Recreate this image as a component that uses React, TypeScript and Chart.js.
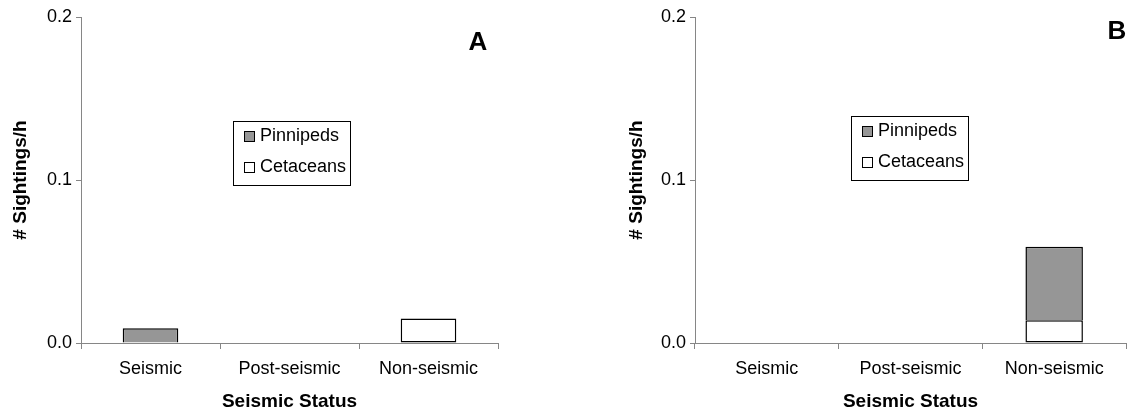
import React, { useEffect, useRef } from "react";
import { Chart, registerables } from "chart.js";

Chart.register(...registerables);

// ---- data ----
const categories = ["Seismic", "Post-seismic", "Non-seismic"];
const seriesLabels = ["Cetaceans", "Pinnipeds"];
const cetaceansA = [0, 0, 0.015];
const pinnipedsA = [0.009, 0, 0];
const cetaceansB = [0, 0, 0.014];
const pinnipedsB = [0, 0, 0.045];
const yTickValues = [0, 0.1, 0.2];
const panelLabels = ["A", "B"];
const xTitle = "Seismic Status";
const yTitle = "# Sightings/h";

const FONT = "'Liberation Sans', Arial, Helvetica, sans-serif";
const AXIS = "#868686";
const GRAY = "#969696";

const decoPlugin = {
  id: "panelDeco",
  afterDraw(chart: any, _args: any, opts: any) {
    const ctx = chart.ctx;
    ctx.save();
    // legend box
    const { legendX, legendY, legendW, legendH } = opts;
    ctx.fillStyle = "#ffffff";
    ctx.fillRect(legendX, legendY, legendW, legendH);
    ctx.strokeStyle = "#000";
    ctx.lineWidth = 1;
    ctx.strokeRect(legendX + 0.5, legendY + 0.5, legendW, legendH);
    const items = chart.data.datasets.slice().reverse();
    items.forEach((ds: any, i: number) => {
      const sx = legendX + 11;
      const sy = legendY + 10 + i * 31;
      ctx.fillStyle = ds.backgroundColor;
      ctx.fillRect(sx, sy, 10, 10);
      ctx.strokeStyle = "#000";
      ctx.lineWidth = 1;
      ctx.strokeRect(sx + 0.5, sy + 0.5, 10, 10);
      ctx.fillStyle = "#000";
      ctx.font = `18px ${FONT}`;
      ctx.textBaseline = "middle";
      ctx.textAlign = "left";
      ctx.fillText(ds.label, sx + 16, sy + 5.5);
    });
    // panel label
    ctx.font = `bold 26px ${FONT}`;
    ctx.textAlign = "center";
    ctx.textBaseline = "middle";
    ctx.fillStyle = "#000";
    ctx.fillText(opts.label, opts.labelX, opts.labelY);
    ctx.restore();
  },
};

function makeConfig(p: any) {
  const barCommon = {
    borderColor: "#000",
    borderSkipped: false,
    barPercentage: 0.4,
    categoryPercentage: 1,
  };
  return {
    type: "bar",
    data: {
      labels: categories,
      datasets: [
        {
          label: seriesLabels[0],
          data: p.cet,
          backgroundColor: "#ffffff",
          borderWidth: 1.5,
          ...barCommon,
        },
        {
          label: seriesLabels[1],
          data: p.pin,
          backgroundColor: GRAY,
          borderWidth: { top: 1.5, left: 1.5, right: 1.5, bottom: 0 },
          ...barCommon,
        },
      ],
    },
    options: {
      responsive: false,
      animation: false,
      events: [],
      layout: { padding: { left: p.padLeft, right: p.padRight, top: 17, bottom: 0 } },
      plugins: {
        legend: { display: false },
        tooltip: { enabled: false },
        panelDeco: {
          label: p.label,
          labelX: p.labelX,
          labelY: p.labelY,
          legendX: p.legendX,
          legendY: p.legendY,
          legendW: 117,
          legendH: 64,
        },
      },
      scales: {
        x: {
          stacked: true,
          grid: {
            display: true,
            drawOnChartArea: false,
            drawTicks: true,
            tickLength: 6,
            color: AXIS,
            offset: true,
          },
          border: { display: true, color: AXIS, width: 1 },
          ticks: {
            color: "#000",
            font: { family: FONT, size: 18 },
            padding: 9,
            maxRotation: 0,
            autoSkip: false,
          },
          title: {
            display: true,
            text: xTitle,
            color: "#000",
            font: { family: FONT, size: 19, weight: "bold" },
            padding: { top: 0, bottom: 0 },
          },
          afterFit: (s: any) => {
            s.height = 70;
          },
        },
        y: {
          stacked: true,
          min: yTickValues[0],
          max: yTickValues[yTickValues.length - 1],
          grid: {
            display: true,
            drawOnChartArea: false,
            drawTicks: true,
            tickLength: 5,
            color: AXIS,
          },
          border: { display: true, color: AXIS, width: 1 },
          ticks: {
            stepSize: yTickValues[1] - yTickValues[0],
            color: "#000",
            font: { family: FONT, size: 18 },
            padding: 4,
            callback: (v: any) => Number(v).toFixed(1),
          },
          title: {
            display: true,
            text: yTitle,
            color: "#000",
            font: { family: FONT, size: 19, weight: "bold" },
            padding: { top: 0, bottom: 0 },
          },
          afterFit: (s: any) => {
            s.width = p.yWidth;
          },
        },
      },
    },
    plugins: [decoPlugin],
  };
}

export default function App() {
  const refA = useRef<HTMLCanvasElement>(null);
  const refB = useRef<HTMLCanvasElement>(null);

  useEffect(() => {
    const a = new Chart(
      refA.current as any,
      makeConfig({
        cet: cetaceansA,
        pin: pinnipedsA,
        padLeft: 9,
        padRight: 62,
        yWidth: 72,
        label: panelLabels[0],
        labelX: 478,
        labelY: 43,
        legendX: 233,
        legendY: 121,
      }) as any
    );
    const b = new Chart(
      refB.current as any,
      makeConfig({
        cet: cetaceansB,
        pin: pinnipedsB,
        padLeft: 65,
        padRight: 1,
        yWidth: 70,
        label: panelLabels[1],
        labelX: 557,
        labelY: 32,
        legendX: 291,
        legendY: 116,
      }) as any
    );
    return () => {
      a.destroy();
      b.destroy();
    };
  }, []);

  return (
    <div
      style={{
        position: "fixed",
        left: 0,
        top: 0,
        width: 1127,
        height: 413,
        background: "#fff",
      }}
    >
      <canvas
        ref={refA}
        width={560}
        height={413}
        style={{ position: "absolute", left: 0, top: 0, width: 560, height: 413 }}
      />
      <canvas
        ref={refB}
        width={567}
        height={413}
        style={{ position: "absolute", left: 560, top: 0, width: 567, height: 413 }}
      />
    </div>
  );
}
